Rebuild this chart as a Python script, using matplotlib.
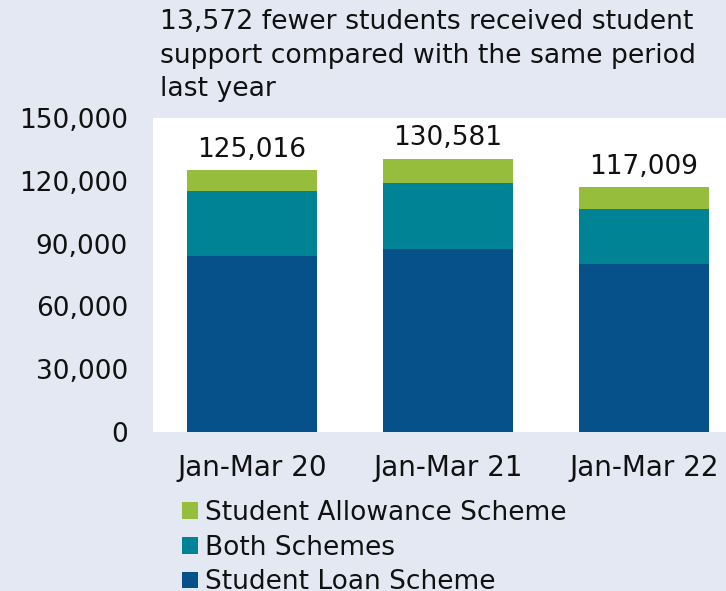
import matplotlib
matplotlib.use("Agg")
import matplotlib.pyplot as plt
from matplotlib.ticker import FuncFormatter

categories = ["Jan-Mar 20", "Jan-Mar 21", "Jan-Mar 22"]
loan = [83900, 87300, 80300]
both = [31200, 31600, 26100]
allowance = [9916, 11681, 10609]
totals = [125016, 130581, 117009]
series_names = ["Student Loan Scheme", "Both Schemes", "Student Allowance Scheme"]
title = "13,572 fewer students received student\nsupport compared with the same period\nlast year"

c_loan = "#065189"
c_both = "#008394"
c_allow = "#97BD3D"
bg = "#E4E8F2"

W, H = 726, 591
fig = plt.figure(figsize=(W / 100, H / 100), dpi=100, facecolor=bg)
ax = fig.add_axes([153 / W, 1 - 432 / H, (726 - 153) / W, (432 - 118) / H])
ax.set_facecolor("white")

x = list(range(len(categories)))
w = 0.663
b1 = ax.bar(x, loan, w, color=c_loan, label=series_names[0])
b2 = ax.bar(x, both, w, bottom=loan, color=c_both, label=series_names[1])
bot3 = [a + b for a, b in zip(loan, both)]
b3 = ax.bar(x, allowance, w, bottom=bot3, color=c_allow, label=series_names[2])

for xi, t, s in zip(x, totals, [a + b for a, b in zip(bot3, allowance)]):
    ax.text(xi, s + 3600, f"{t:,}", ha="center", va="bottom", fontsize=19, color="#111111")

ax.set_xlim(-0.505, 2.418)
ax.set_ylim(0, 150000)
ax.set_yticks([0, 30000, 60000, 90000, 120000, 150000])
ax.yaxis.set_major_formatter(FuncFormatter(lambda v, p: f"{int(v):,}"))
ax.set_xticks(x)
ax.set_xticklabels(categories)
ax.tick_params(axis="both", length=0, colors="#111111")
ax.tick_params(axis="y", pad=18, labelsize=19)
ax.tick_params(axis="x", pad=16, labelsize=20)
for sp in ax.spines.values():
    sp.set_visible(False)

fig.text(160 / W, 1 - 9 / H, title, ha="left", va="top", fontsize=19.2, color="#111111",
         linespacing=1.38)

handles = [b3, b2, b1]
labels = [series_names[2], series_names[1], series_names[0]]
leg = fig.legend(handles, labels, loc="upper left", bbox_to_anchor=(182 / W, 1 - 500 / H),
                 frameon=False, fontsize=19, handlelength=0.6, handleheight=0.6,
                 handletextpad=0.28, labelspacing=0.33, borderaxespad=0, borderpad=0)
for t in leg.get_texts():
    t.set_color("#111111")

fig.savefig("out.png", dpi=100, facecolor=bg)
